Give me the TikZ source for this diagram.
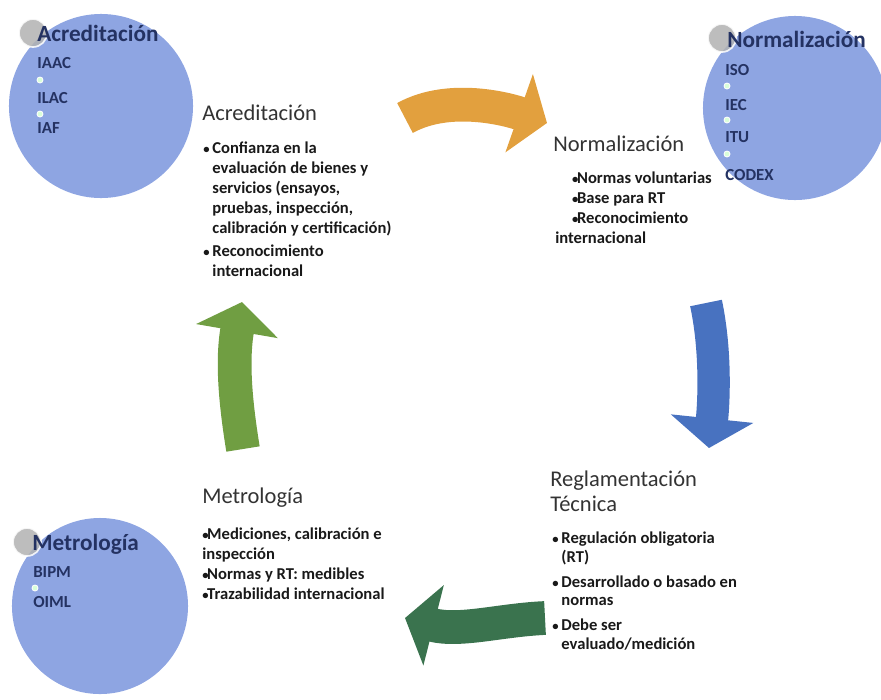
\documentclass[tikz,border=0pt]{standalone}
\usepackage{fontspec}
\setmainfont{Carlito}
\usetikzlibrary{arrows.meta}
\definecolor{circ}{RGB}{142,165,226}
\definecolor{circtxt}{RGB}{36,50,98}
\definecolor{arrOrange}{RGB}{226,160,62}
\definecolor{arrBlue}{RGB}{72,114,192}
\definecolor{arrDkGreen}{RGB}{58,115,78}
\definecolor{arrGreen}{RGB}{112,158,66}
\newcommand{\itm}{\makebox[6.5pt][l]{\small\textbullet}}
\newcommand{\itmb}{\makebox[3.5pt][l]{\small\textbullet}}
\newcommand{\nxt}{\hspace*{6.5pt}}
\tikzset{
  orgcirc/.style={circle, fill=circ, inner sep=0pt, minimum size=#1},
  knob/.style={circle, fill=gray!60, draw=white, line width=1.2pt, opacity=0.85, inner sep=0pt, minimum size=0.7cm},
  tick/.style={circle, fill=green!15!white, draw=white, line width=0.6pt, inner sep=0pt, minimum size=0.15cm},
  circhead/.style={anchor=base west, inner sep=0pt, text=circtxt, font=\fontsize{16.5}{18}\selectfont\bfseries},
  circitem/.style={anchor=base west, inner sep=0pt, text=circtxt, font=\fontsize{12}{14}\selectfont\bfseries},
  heading/.style={anchor=base west, inner sep=0pt, align=left, text=black!80, font=\fontsize{16}{17.7}\selectfont},
  points/.style={anchor=base west, inner sep=0pt, align=left, text=black!90, font=\fontsize{11.8}{14.2}\selectfont\bfseries},
  bigarrow/.style={draw=#1, -{Triangle[length=21pt,width=58pt]}}
}
\begin{document}
\begin{tikzpicture}[x=0.025cm, y=-0.025cm]
  \useasboundingbox (0,0) rectangle (881,699);

  \node[orgcirc=4.6cm] (acredC) at (101,106) {};
  \node[orgcirc=4.6cm] (normC) at (795,108) {};
  \node[orgcirc=4.4cm] (metroC) at (100,606) {};

  \node[knob] (acredK) at (33,33) {};
  \node[knob] (normK) at (722,38) {};
  \node[knob] (metroK) at (27,542) {};

  \node[circhead] (acredT) at (37,41) {Acreditación};
  \node[circitem] (iaac) at (37,68) {IAAC};
  \node[tick] (ta1) at (40,80) {};
  \node[circitem] (ilac) at (37,103) {ILAC};
  \node[tick] (ta2) at (40,114) {};
  \node[circitem] (iaf) at (37,133) {IAF};

  \node[circhead] (normT) at (727,47) {Normalización};
  \node[circitem] (iso) at (725,75) {ISO};
  \node[tick] (tn1) at (727,86) {};
  \node[circitem] (iec) at (725,110) {IEC};
  \node[tick] (tn2) at (727,120) {};
  \node[circitem] (itu) at (725,142) {ITU};
  \node[tick] (tn3) at (727,154) {};
  \node[circitem] (codex) at (725,180) {CODEX};

  \node[circhead] (metroT) at (32,550) {Metrología};
  \node[circitem] (bipm) at (33,577) {BIPM};
  \node[tick] (tm1) at (35,588) {};
  \node[circitem] (oiml) at (33,607) {OIML};

  \node[heading] (acred) at (202,120) {Acreditación};
  \node[points] (acredL) at (203,276) {\itm Confianza en la\\
    \nxt evaluación de bienes y\\
    \nxt servicios (ensayos,\\
    \nxt pruebas, inspección,\\
    \nxt calibración y certificación)\\[2pt]
    \itm Reconocimiento\\
    \nxt internacional};

  \node[heading] (norm) at (553,151) {Normalización};
  \node[points] (normL) at (555,243) {\hspace*{12pt}\itmb Normas voluntarias\\
    \hspace*{12pt}\itmb Base para RT\\
    \hspace*{12pt}\itmb Reconocimiento\\
    internacional};

  \node[heading] (regl) at (550,511) {Reglamentación\\Técnica};
  \node[points, font=\fontsize{11.8}{13.1}\selectfont\bfseries] (reglL) at (552,649) {\itm Regulación obligatoria\\
    \nxt (RT)\\[4.6pt]
    \itm Desarrollado o basado en\\
    \nxt normas\\[4.6pt]
    \itm Debe ser\\
    \nxt evaluado/medición};

  \node[heading] (metro) at (202,503) {Metrología};
  \node[points] (metroL) at (202,599) {\itmb Mediciones, calibración e\\
    inspección\\
    \itmb Normas y RT: medibles\\
    \itmb Trazabilidad internacional};

  \coordinate (oS) at (405,118);
  \coordinate (oE) at (547,123);
  \coordinate (bS) at (706,303);
  \coordinate (bE) at (709,448);
  \coordinate (dS) at (545,618);
  \coordinate (dE) at (405,618);
  \coordinate (gS) at (243,449);
  \coordinate (gE) at (242,302);

  \draw[bigarrow=arrOrange, line width=24pt] (oS) .. controls (450,93) and (510,110) .. (oE);
  \draw[bigarrow=arrBlue, line width=23pt] (bS) .. controls (716,350) and (714,400) .. (bE);
  \draw[bigarrow=arrDkGreen, line width=24pt] (dS) .. controls (500,620) and (460,632) .. (dE);
  \draw[bigarrow=arrGreen, line width=24pt] (gS) .. controls (235,400) and (232,360) .. (gE);
\end{tikzpicture}
\end{document}
